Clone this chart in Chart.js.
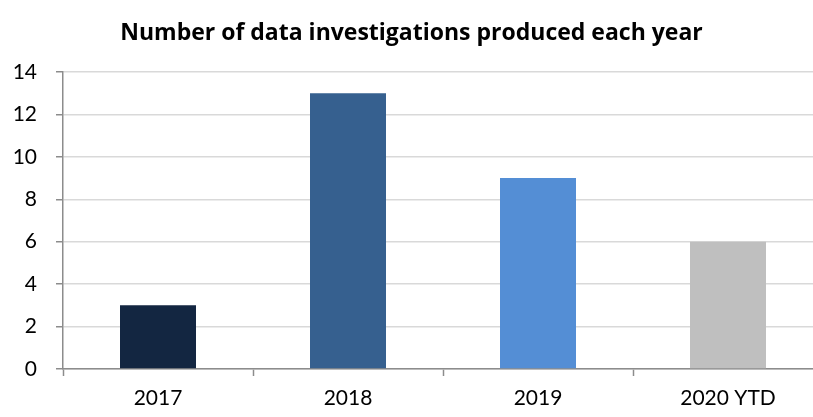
<!DOCTYPE html>
<html>
<head>
<meta charset="utf-8">
<script src="https://cdn.jsdelivr.net/npm/chart.js@4"></script>
<style>
  html, body { margin: 0; padding: 0; background: #fff; overflow: hidden; }
  #wrap { width: 830px; height: 417px; }
</style>
</head>
<body>
<div id="wrap"><canvas id="myChart" width="830" height="417"></canvas></div>
<script>
const years = ["2017", "2018", "2019", "2020 YTD"];
const counts = [3, 13, 9, 6];
const barColors = ["#132641", "#36608f", "#548ed5", "#bfbfbf"];
const yTicks = [0, 2, 4, 6, 8, 10, 12, 14];

const ctx = document.getElementById("myChart").getContext("2d");
const myChart = new Chart(ctx, {
  type: "bar",
  data: {
    labels: years,
    datasets: [
      {
        label: "Investigations",
        data: counts,
        backgroundColor: barColors,
        borderWidth: 0,
        categoryPercentage: 1,
        barPercentage: 0.4
      }
    ]
  },
  options: {
    responsive: false,
    animation: false,
    layout: { padding: { left: 0, right: 7, top: 0, bottom: 0 } },
    plugins: {
      legend: { display: false },
      tooltip: { enabled: false },
      title: {
        display: true,
        text: "Number of data investigations produced each year",
        color: "#000",
        font: { family: "Open Sans", size: 23, weight: "bold", lineHeight: 1.2 },
        padding: { top: 20, bottom: 24.4 }
      }
    },
    scales: {
      x: {
        offset: true,
        grid: {
          offset: true,
          drawOnChartArea: false,
          drawTicks: true,
          tickLength: 7,
          tickColor: "#8c8c8c",
          tickWidth: 1.5
        },
        border: { color: "#8c8c8c", width: 1.5 },
        ticks: {
          color: "#000",
          padding: 10,
          font: { family: "Lato", size: 21 }
        },
        afterFit: (scale) => { scale.height = 48; }
      },
      y: {
        min: 0,
        max: 14,
        afterBuildTicks: (scale) => {
          scale.ticks = yTicks.map((v) => ({ value: v }));
        },
        grid: {
          color: "#d9d9d9",
          lineWidth: 1.5,
          drawTicks: true,
          tickLength: 7,
          tickColor: "#8c8c8c",
          tickWidth: 1.5
        },
        border: { color: "#8c8c8c", width: 1.5 },
        ticks: {
          color: "#000",
          padding: 19,
          font: { family: "Lato", size: 21 }
        },
        afterFit: (scale) => { scale.width = 63; }
      }
    }
  }
});
</script>
</body>
</html>
